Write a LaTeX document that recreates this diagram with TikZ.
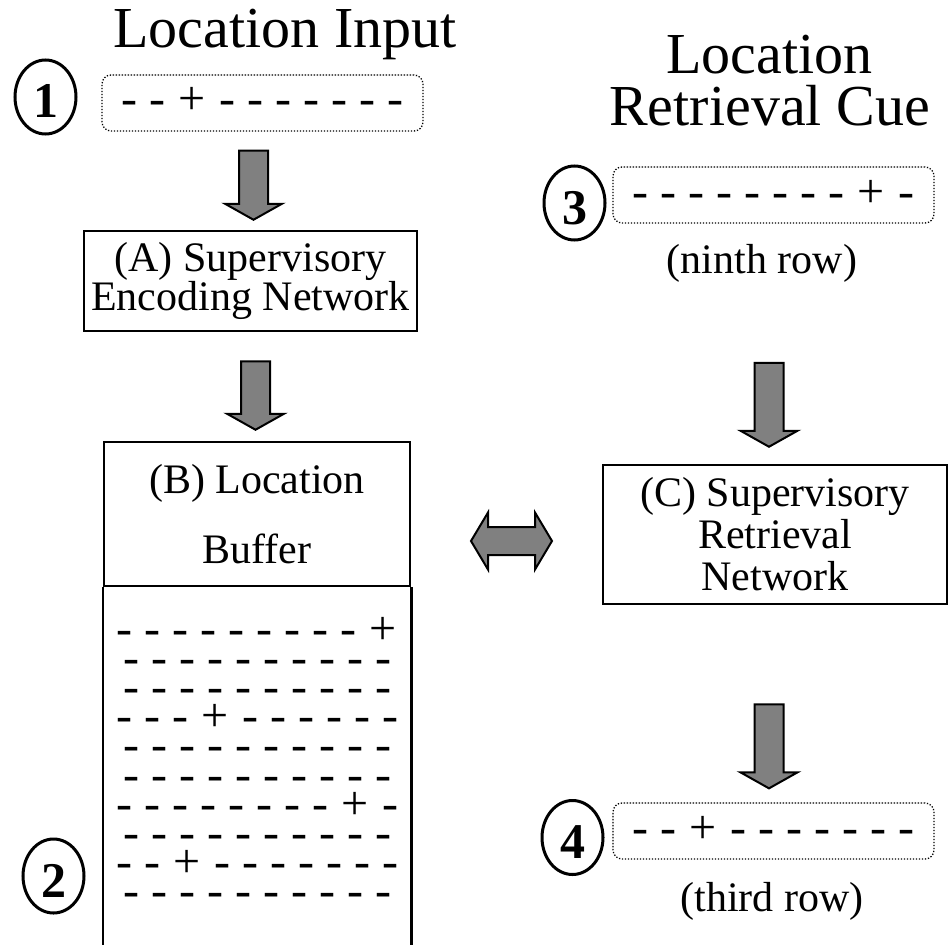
\documentclass[tikz,border=0pt]{standalone}
\usepackage{fontspec}
\setmainfont{Liberation Serif}
\usetikzlibrary{calc,shapes.geometric}

% one cell of a location row: a minus or a plus
\newcommand{\mn}{\makebox[28pt]{-}}
\newcommand{\pl}{\makebox[42pt]{+}}

% thick grey block arrow pointing down, from the top of its shaft (#1) to its tip (#2)
\newcommand{\fatdown}[2]{%
  \draw[fatarrow] let \p1=(#1), \p2=(#2) in
    (\x2-14.5pt,\y1) -- (\x2-14.5pt,\y2+16pt) -- (\x2-28.5pt,\y2+16pt) -- (\x2,\y2)
    -- (\x2+28.5pt,\y2+16pt) -- (\x2+14.5pt,\y2+16pt) -- (\x2+14.5pt,\y1) -- cycle;}

\tikzset{
  box/.style={draw, line width=2.5pt, inner sep=0pt, align=center},
  cue/.style={draw, line width=1.3pt, dash pattern=on 1.3pt off 1.7pt, rounded corners=9pt,
    minimum width=321, minimum height=56, inner sep=0pt,
    font=\fontsize{48}{48}\selectfont, text height=24pt, text depth=0pt},
  badge/.style={draw, ellipse, line width=3pt, minimum width=61, minimum height=74,
    inner sep=0pt, font=\fontsize{50}{50}\selectfont\bfseries,
    text height=42pt, text depth=0pt},
  fatarrow/.style={draw, line width=2pt, fill=black!50, line join=miter},
  rowtext/.style={anchor=base, inner sep=0pt, font=\fontsize{48}{48}\selectfont},
  caption/.style={anchor=base, inner sep=0pt, font=\fontsize{42}{42}\selectfont},
  title/.style={inner sep=0pt, align=center, font=\fontsize{58}{52}\selectfont},
}

\begin{document}
\begin{tikzpicture}[x=1pt, y=-1pt]
\useasboundingbox (0,0) rectangle (949,944);

% ---- left column: encoding ----
\node[title, anchor=base] (tin) at (285,48) {Location Input};
\node[cue] (in1) at (262.5,103) {\mn\mn\pl\mn\mn\mn\mn\mn\mn\mn};
\node[badge] (n1) at (45.5,97) {1};

\node[box, minimum width=333, minimum height=100,
      font=\fontsize{42}{38}\selectfont] (A) at (250.5,281)
  {(A) Supervisory\\Encoding Network};

\node[box, minimum width=306, minimum height=144,
      font=\fontsize{42}{70}\selectfont] (B) at (257,514)
  {(B) Location\\Buffer};
% open lower part of the buffer, running off the page
\draw[line width=2.5pt] (B.south west) -- ++(0,420);
\draw[line width=2.5pt] (B.south east) -- ++(0,420);

% buffer contents, one row per stored location
\node[rowtext] (r1)  at (257.5,644) {\mn\mn\mn\mn\mn\mn\mn\mn\mn\pl};
\node[rowtext] (r2)  at (257.5,673) {\mn\mn\mn\mn\mn\mn\mn\mn\mn\mn};
\node[rowtext] (r3)  at (257.5,702) {\mn\mn\mn\mn\mn\mn\mn\mn\mn\mn};
\node[rowtext] (r4)  at (257.5,731) {\mn\mn\mn\pl\mn\mn\mn\mn\mn\mn};
\node[rowtext] (r5)  at (257.5,760) {\mn\mn\mn\mn\mn\mn\mn\mn\mn\mn};
\node[rowtext] (r6)  at (257.5,790) {\mn\mn\mn\mn\mn\mn\mn\mn\mn\mn};
\node[rowtext] (r7)  at (257.5,819) {\mn\mn\mn\mn\mn\mn\mn\mn\pl\mn};
\node[rowtext] (r8)  at (257.5,848) {\mn\mn\mn\mn\mn\mn\mn\mn\mn\mn};
\node[rowtext] (r9)  at (257.5,877) {\mn\mn\pl\mn\mn\mn\mn\mn\mn\mn};
\node[rowtext] (r10) at (257.5,906) {\mn\mn\mn\mn\mn\mn\mn\mn\mn\mn};
\node[badge] (n2) at (53.5,876) {2};

% ---- right column: retrieval ----
\node[title] (tcue) at (769.5,81) {Location\\Retrieval Cue};
\node[cue] (cue) at (773.5,195) {\mn\mn\mn\mn\mn\mn\mn\mn\pl\mn};
\node[badge] (n3) at (574.5,203) {3};
\node[caption] (ninth) at (762,273) {(ninth row)};

\node[box, minimum width=344, minimum height=139,
      font=\fontsize{42}{42}\selectfont] (C) at (775,534.5)
  {(C) Supervisory\\Retrieval\\Network};

\node[cue] (out) at (773.5,831) {\mn\mn\pl\mn\mn\mn\mn\mn\mn\mn};
\node[badge] (n4) at (572.5,837.5) {4};
\node[caption] (third) at (772,911) {(third row)};

% ---- flow arrows ----
\fatdown{$(in1.south)+(0,19)$}{$(A.north)+(3,-10)$}
\fatdown{$(A.south)+(0,29)$}{$(B.north)+(-1.5,-11)$}
\fatdown{$(C.north)+(-6,-101)$}{$(C.north)+(-6,-17)$}
\fatdown{$(C.south)+(0,99)$}{$(out.north)+(-4.5,-14)$}

% two-way exchange between buffer and retrieval network
\coordinate (dl) at (471,541);
\coordinate (dr) at (552,541);
\draw[fatarrow] let \p1=(dl), \p2=(dr) in
  (\x1,\y1) -- (\x1+17pt,\y1+28.5pt) -- (\x1+17pt,\y1+14pt) -- (\x2-17pt,\y1+14pt)
  -- (\x2-17pt,\y1+28.5pt) -- (\x2,\y2) -- (\x2-17pt,\y1-28.5pt) -- (\x2-17pt,\y1-14pt)
  -- (\x1+17pt,\y1-14pt) -- (\x1+17pt,\y1-28.5pt) -- cycle;
\end{tikzpicture}
\end{document}
